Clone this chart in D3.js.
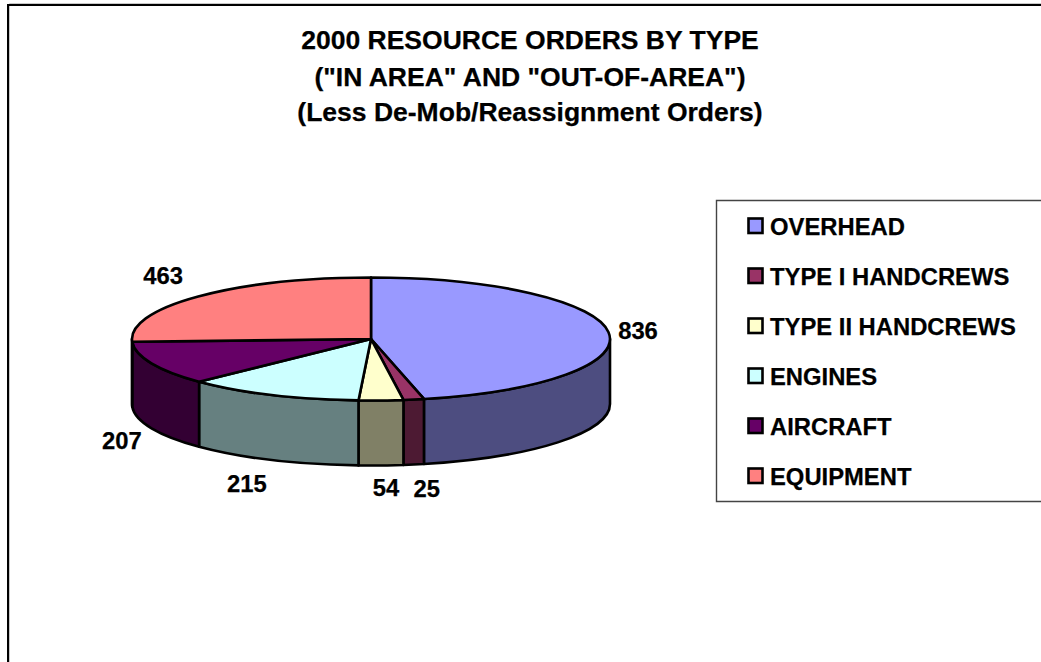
<!DOCTYPE html>
<html><head><meta charset="utf-8">
<script src="https://cdn.jsdelivr.net/npm/d3@7"></script>
<style>html,body{margin:0;padding:0;background:#fff;overflow:hidden}
svg{display:block}text{font-family:"Liberation Sans",Arial,sans-serif;font-weight:bold;fill:#000;stroke:#000;stroke-width:.25}</style>
</head><body><svg id="c" width="1041" height="662"></svg>
<script>
const titleLines = ['2000 RESOURCE ORDERS BY TYPE','("IN AREA" AND "OUT-OF-AREA")','(Less De-Mob/Reassignment Orders)'];
const categories = ['OVERHEAD','TYPE I HANDCREWS','TYPE II HANDCREWS','ENGINES','AIRCRAFT','EQUIPMENT'];
const values = [836,25,54,215,207,463];
const topColors = ['#9999FF','#993366','#FFFFCC','#CCFFFF','#660066','#FF8080'];
const sideColors = ['#4D4D80','#4D1A33','#808066','#668080','#330033','#804040'];
const labelNudges = [[29.5,-2],[13,23.5],[5,22.5],[-25,24],[-29.6,12.5],[-35,-21.5]];

const svg = d3.select('#c');
const cx=371, cy=339, rx=239, ry=61.5, depth=65, sw=2.6, fs=23.8, tfs=26.5;

// page frame
svg.append('path').attr('d','M9.5,662V3.5H1041').attr('fill','none').attr('stroke','#c8c8c8').attr('stroke-width',1);
svg.append('path').attr('d','M8,662V5H1041').attr('fill','none').attr('stroke','#000').attr('stroke-width',2);

// title
svg.append('g').selectAll('text').data(titleLines).join('text')
  .attr('x',530).attr('y',(d,i)=>[49.3,85.5,121][i]).attr('text-anchor','middle').attr('font-size',tfs).text(d=>d);

// pie
const arcs = d3.pie().sort(null).value(d=>d)(values);
const px = a => cx + rx*Math.sin(a);
const py = a => cy - ry*Math.cos(a);
const q = Math.PI/2;
const g = svg.append('g').attr('stroke','#000').attr('stroke-width',sw).attr('stroke-linejoin','round');

// side walls: only the part of each slice on the front half
const front = arcs.map((a,i)=>({i,s:Math.max(a.startAngle,q),e:Math.min(a.endAngle,3*q)})).filter(d=>d.e>d.s);
g.selectAll('path.side').data(front).join('path').attr('class','side')
  .attr('fill',d=>sideColors[d.i])
  .attr('d',d=>`M${px(d.s)},${py(d.s)}A${rx},${ry} 0 0 1 ${px(d.e)},${py(d.e)}`+
      `L${px(d.e)},${py(d.e)+depth}A${rx},${ry} 0 0 0 ${px(d.s)},${py(d.s)+depth}Z`);

// top face
const arcGen = d3.arc().innerRadius(0).outerRadius(rx);
g.append('g').attr('transform',`translate(${cx},${cy}) scale(1,${ry/rx})`)
  .selectAll('path').data(arcs).join('path')
  .attr('d',arcGen).attr('fill',(d,i)=>topColors[i]).attr('vector-effect','non-scaling-stroke');

// value labels
svg.append('g').selectAll('text').data(arcs).join('text')
  .attr('text-anchor','middle').attr('dominant-baseline','central').attr('font-size',fs)
  .attr('x',(d,i)=>px((d.startAngle+d.endAngle)/2)+labelNudges[i][0])
  .attr('y',(d,i)=>{const m=(d.startAngle+d.endAngle)/2;return py(m)+(Math.cos(m)<0?depth:0)+labelNudges[i][1];})
  .text(d=>d.value);

// legend
svg.append('path').attr('d','M1041,200.5H716.5V501.5H1041').attr('fill','none').attr('stroke','#444').attr('stroke-width',1.4);
const rowY = d3.scalePoint().domain(categories).range([226,476]);
const leg = svg.append('g').selectAll('g').data(categories).join('g').attr('transform',d=>`translate(0,${rowY(d)})`);
leg.append('rect').attr('x',748.5).attr('y',-7.5).attr('width',14).attr('height',14.5)
  .attr('fill',(d,i)=>topColors[i]).attr('stroke','#000').attr('stroke-width',2.6);
leg.append('text').attr('x',770).attr('y',8.5).attr('font-size',fs).text(d=>d);
</script></body></html>
